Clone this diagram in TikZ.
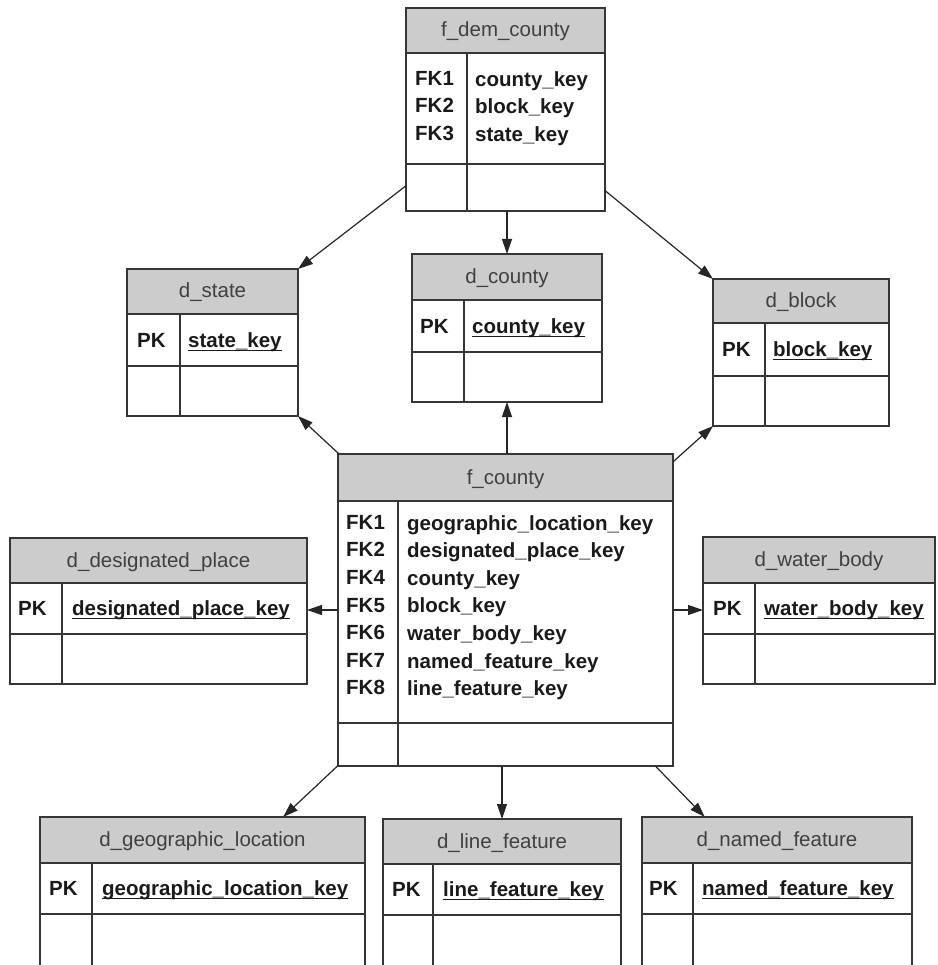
\documentclass[tikz,border=0pt]{standalone}
\usepackage{fontspec}
\setmainfont{Liberation Sans}
\usetikzlibrary{arrows.meta,fit}

\definecolor{hdrgray}{HTML}{CCCCCC}
\definecolor{edgegray}{HTML}{363636}
\definecolor{hdrink}{HTML}{404040}
\definecolor{keyink}{HTML}{1A1A1A}

% underlined primary-key name
\newcommand\ulkey[1]{\setbox0\hbox{#1}\rlap{\rule[-4pt]{\wd0}{1.5pt}}\box0}

\tikzset{
  tblframe/.style={draw=edgegray, line width=1.7pt},
  tblhead/.style={fill=hdrgray},
  titletext/.style={font=\fontsize{20.5}{24}\selectfont, text=hdrink, inner sep=0pt},
  keytext/.style={font=\fontsize{20.5}{27.6}\selectfont\bfseries, text=keyink, inner sep=0pt, align=left},
  fk/.style={draw=black!85, line width=1.2pt, -{Triangle[length=15pt,width=10pt]}},
  tablebox/.style={inner sep=0pt, outer sep=0pt}
}

% #1 name, #2 left, #3 top, #4 right, #5 bottom, #6 header rule, #7 key rule, #8 column rule, #9 title
\newcommand\ertable[9]{%
  \fill[tblhead] (#2,#3) rectangle (#4,#6);
  \draw[tblframe] (#2,#6) -- (#4,#6) (#2,#7) -- (#4,#7) (#8,#6) -- (#8,#5);
  \draw[tblframe] (#2,#3) rectangle (#4,#5);
  \node[tablebox, fit={(#2,#3) (#4,#5)}] (#1) {};
  \node[titletext, anchor=base] (#1-title) at ({(#2+#4)/2},{(#3+#6)/2+6.5}) {#9};
}

% #1 name, #2 PK x, #3 key x, #4 row centre y, #5 key name
\newcommand\pkrow[5]{%
  \node[keytext, anchor=base west] (#1-pk) at (#2,#4+7) {PK};
  \node[keytext, anchor=base west] (#1-key) at (#3,#4+7) {\ulkey{#5}};
}

% #1 name, #2 FK x, #3 field x, #4 top of first line, #5 FK labels, #6 fields
\newcommand\fkrows[6]{%
  \node[keytext, anchor=north west] (#1-fk) at (#2,#4) {#5};
  \node[keytext, anchor=north west] (#1-fields) at (#3,#4) {#6};
}

\begin{document}
\begin{tikzpicture}[x=1pt, y=-1pt]
  \clip (0,0) rectangle (937,965);
  \fill[white] (0,0) rectangle (937,965);

  % fact tables
  \ertable{fdc}{406}{8}{605}{211}{53}{164}{467}{f\_dem\_county}
  \fkrows{fdc}{415}{475}{71}{FK1\\FK2\\FK3}{county\_key\\block\_key\\state\_key}

  \ertable{fco}{338}{454}{673}{766}{501}{723}{398}{f\_county}
  \fkrows{fco}{346}{407}{515}{FK1\\FK2\\FK4\\FK5\\FK6\\FK7\\FK8}%
    {geographic\_location\_key\\designated\_place\_key\\county\_key\\block\_key\\water\_body\_key\\named\_feature\_key\\line\_feature\_key}

  % dimension tables
  \ertable{dst}{127}{269}{298}{416}{314}{366}{180}{d\_state}
  \pkrow{dst}{137}{188}{340}{state\_key}

  \ertable{dco}{412}{254}{602}{402}{300}{352}{464}{d\_county}
  \pkrow{dco}{420}{472}{326}{county\_key}

  \ertable{dbl}{713}{279}{889}{426}{323}{376}{765}{d\_block}
  \pkrow{dbl}{722}{773}{349}{block\_key}

  \ertable{ddp}{10}{538}{307}{684}{583}{634}{62}{d\_designated\_place}
  \pkrow{ddp}{18}{72}{608}{designated\_place\_key}

  \ertable{dwb}{703}{537}{935}{684}{583}{634}{755}{d\_water\_body}
  \pkrow{dwb}{713}{764}{608}{water\_body\_key}

  \ertable{dgl}{40}{817}{365}{968}{863}{914}{92}{d\_geographic\_location}
  \pkrow{dgl}{49}{102}{888}{geographic\_location\_key}

  \ertable{dlf}{383}{819}{621}{968}{864}{915}{433}{d\_line\_feature}
  \pkrow{dlf}{392}{443}{889}{line\_feature\_key}

  \ertable{dnf}{642}{817}{912}{968}{863}{914}{693}{d\_named\_feature}
  \pkrow{dnf}{649}{702}{888}{named\_feature\_key}

  % foreign-key references
  \draw[fk] (fdc) -- (dst.north east);
  \draw[fk] (fdc.south -| dco.north) -- (dco.north);
  \draw[fk] (fdc) -- (dbl.north west);

  \draw[fk] (fco) -- (dst.south east);
  \draw[fk] (fco.north -| dco.south) -- (dco.south);
  \draw[fk] (fco) -- (dbl.south west);
  \draw[fk] (fco.west) -- (fco.west -| ddp.east);
  \draw[fk] (fco.east) -- (fco.east -| dwb.west);
  \draw[fk] (fco) -- (dgl);
  \draw[fk] (fco.south -| dlf.north) -- (dlf.north);
  \draw[fk] (fco) -- (dnf);
\end{tikzpicture}
\end{document}
